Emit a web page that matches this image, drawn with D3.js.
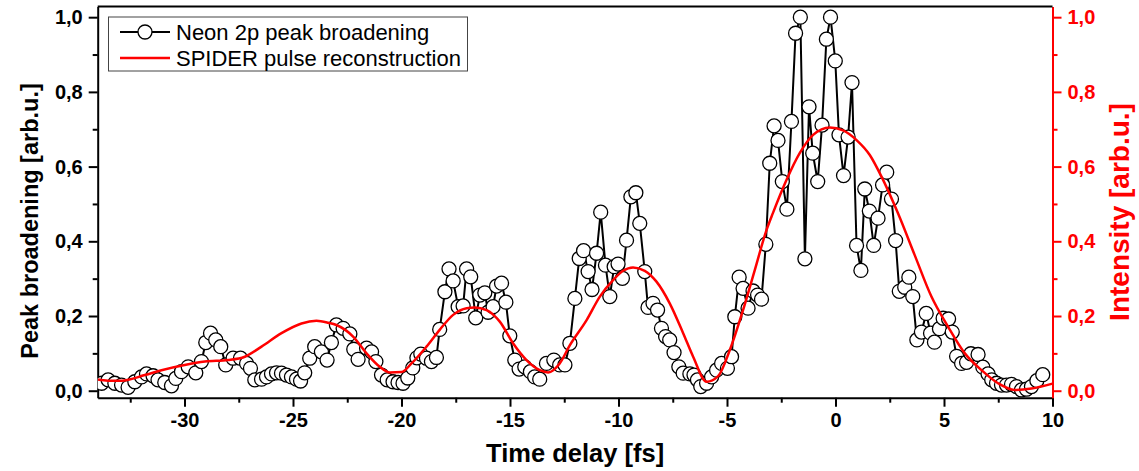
<!DOCTYPE html>
<html>
<head>
<meta charset="utf-8">
<script src="https://cdn.jsdelivr.net/npm/d3@7"></script>
<style>
  body { margin: 0; background: #fff; }
  text { font-family: "Liberation Sans", Arial, sans-serif; }
</style>
</head>
<body>
<div id="chart"></div>
<script>
// neon 2p peak broadening (time delay in fs, broadening arb.u.)
const delayNeon = [
  -33.82, -33.52, -33.21, -32.90, -32.60, -32.29, -31.98, -31.75, -31.45, -31.22,
  -30.91, -30.60, -30.40, -30.14, -29.83, -29.48, -29.22, -29.02, -28.80, -28.56,
  -28.33, -28.10, -27.76, -27.42, -27.14, -26.96, -26.76, -26.45, -26.22, -25.99,
  -25.76, -25.53, -25.30, -25.07, -24.84, -24.65, -24.46, -24.23, -24.00, -23.69,
  -23.43, -23.23, -23.00, -22.69, -22.38, -22.20, -22.00, -21.61, -21.38, -21.18,
  -20.92, -20.66, -20.39, -20.16, -19.93, -19.71, -19.48, -19.29, -19.11, -18.85,
  -18.62, -18.39, -18.24, -18.00, -17.81, -17.62, -17.39, -17.16, -17.00, -16.81,
  -16.58, -16.39, -16.16, -16.01, -15.78, -15.62, -15.39, -15.19, -15.01, -14.78,
  -14.58, -14.32, -14.06, -13.86, -13.63, -13.32, -12.98, -12.71, -12.47, -12.24,
  -12.01, -11.81, -11.61, -11.40, -11.22, -11.01, -10.82, -10.60, -10.40, -10.20,
  -10.02, -9.82, -9.63, -9.43, -9.20, -9.02, -8.79, -8.64, -8.41, -8.20,
  -8.02, -7.83, -7.64, -7.44, -7.22, -7.02, -6.71, -6.52, -6.36, -6.21,
  -5.94, -5.71, -5.48, -5.25, -4.98, -4.79, -4.64, -4.44, -4.26, -4.03,
  -3.80, -3.59, -3.41, -3.21, -3.03, -2.83, -2.65, -2.45, -2.24, -2.03,
  -1.84, -1.62, -1.41, -1.22, -1.05, -0.82, -0.62, -0.42, -0.23, -0.01,
  0.16, 0.37, 0.58, 0.76, 0.97, 1.17, 1.35, 1.56, 1.76, 1.96,
  2.17, 2.36, 2.58, 2.77, 2.94, 3.19, 3.38, 3.56, 3.75, 3.96,
  4.18, 4.38, 4.56, 4.79, 4.96, 5.21, 5.38, 5.58, 5.81, 6.04,
  6.24, 6.57, 6.79, 7.03, 7.20, 7.42, 7.65, 7.88, 8.11, 8.34,
  8.57, 8.80, 9.03, 9.28, 9.55
];
const broadening = [
  0.020, 0.029, 0.020, 0.015, 0.009, 0.024, 0.037, 0.045, 0.040, 0.029,
  0.022, 0.013, 0.033, 0.051, 0.064, 0.048, 0.078, 0.129, 0.154, 0.136,
  0.118, 0.069, 0.087, 0.087, 0.073, 0.060, 0.029, 0.031, 0.037, 0.045,
  0.048, 0.047, 0.042, 0.037, 0.031, 0.026, 0.048, 0.087, 0.118, 0.104,
  0.082, 0.129, 0.176, 0.167, 0.152, 0.111, 0.084, 0.114, 0.104, 0.078,
  0.042, 0.029, 0.024, 0.022, 0.020, 0.034, 0.061, 0.088, 0.098, 0.087,
  0.078, 0.089, 0.164, 0.265, 0.326, 0.294, 0.225, 0.227, 0.326, 0.305,
  0.195, 0.256, 0.262, 0.210, 0.225, 0.280, 0.288, 0.237, 0.147, 0.082,
  0.058, 0.064, 0.051, 0.037, 0.031, 0.073, 0.082, 0.069, 0.069, 0.127,
  0.247, 0.354, 0.375, 0.319, 0.271, 0.368, 0.478, 0.336, 0.252, 0.332,
  0.339, 0.301, 0.403, 0.519, 0.530, 0.448, 0.319, 0.223, 0.234, 0.216,
  0.167, 0.145, 0.136, 0.102, 0.064, 0.047, 0.045, 0.042, 0.029, 0.011,
  0.020, 0.037, 0.055, 0.073, 0.060, 0.091, 0.198, 0.304, 0.274, 0.221,
  0.267, 0.256, 0.245, 0.392, 0.609, 0.709, 0.670, 0.560, 0.486, 0.721,
  0.957, 1.000, 0.353, 0.760, 0.636, 0.560, 0.711, 0.941, 1.000, 0.883,
  0.685, 0.576, 0.679, 0.825, 0.389, 0.322, 0.540, 0.481, 0.389, 0.462,
  0.551, 0.585, 0.513, 0.402, 0.266, 0.277, 0.304, 0.252, 0.136, 0.157,
  0.207, 0.154, 0.130, 0.166, 0.194, 0.192, 0.157, 0.092, 0.073, 0.076,
  0.099, 0.097, 0.063, 0.045, 0.029, 0.020, 0.015, 0.015, 0.017, 0.011,
  0.002, 0.004, 0.011, 0.027, 0.043
];

// SPIDER reconstruction (time delay in fs, intensity arb.u.)
const delaySpider = [
  -34.00, -33.53, -32.90, -31.83, -31.06, -29.99, -29.06, -27.99, -27.22, -26.45,
  -25.53, -24.61, -23.92, -23.38, -23.00, -22.23, -21.61, -21.00, -20.54, -20.00,
  -19.54, -18.85, -18.24, -17.62, -17.00, -16.62, -16.08, -15.47, -14.86, -14.24,
  -13.63, -13.24, -12.71, -12.24, -11.47, -10.86, -10.25, -9.79, -9.33, -8.79,
  -8.25, -7.64, -7.02, -6.56, -5.94, -5.41, -4.87, -4.26, -3.72, -3.18,
  -2.88, -2.26, -1.65, -1.03, -0.26, 0.35, 0.97, 1.58, 2.12, 2.88,
  3.65, 4.42, 5.19, 5.96, 6.73, 7.49, 8.26, 9.03, 10.00
];
const intensity = [
  0.030, 0.027, 0.027, 0.042, 0.055, 0.069, 0.078, 0.082, 0.091, 0.118,
  0.154, 0.180, 0.187, 0.182, 0.176, 0.145, 0.100, 0.064, 0.049, 0.050,
  0.073, 0.118, 0.163, 0.203, 0.221, 0.223, 0.216, 0.185, 0.127, 0.082,
  0.055, 0.049, 0.073, 0.122, 0.189, 0.252, 0.296, 0.321, 0.330, 0.321,
  0.292, 0.234, 0.154, 0.091, 0.024, 0.039, 0.109, 0.216, 0.323, 0.430,
  0.476, 0.564, 0.636, 0.685, 0.705, 0.697, 0.671, 0.631, 0.573, 0.475,
  0.363, 0.252, 0.171, 0.100, 0.055, 0.020, 0.002, 0.006, 0.019
];

const xTicks = [-30, -25, -20, -15, -10, -5, 0, 5, 10];
const xMinorTicks = [-32.5, -27.5, -22.5, -17.5, -12.5, -7.5, -2.5, 2.5, 7.5];
const yTicks = [0, 0.2, 0.4, 0.6, 0.8, 1.0];
const yMinorTicks = [0.1, 0.3, 0.5, 0.7, 0.9];
const legendLabels = ["Neon 2p peak broadening", "SPIDER pulse reconstruction"];

const width = 1139;
const height = 471;
const margin = { top: 6.5, right: 86.5, bottom: 73.3, left: 97.7 };
const red = "#ff0000";

const svg = d3.select("#chart")
  .append("svg")
  .attr("width", width)
  .attr("height", height);

const x = d3.scaleLinear()
  .domain([-34, 10])
  .range([margin.left, width - margin.right]);

const y = d3.scaleLinear()
  .domain([-0.0187, 1.0286])
  .range([height - margin.bottom, margin.top]);

const y2 = y.copy(); // right axis uses same scale

const comma = d => d3.format(".1f")(d).replace(".", ",");
const plain = d => String(d); // ascii hyphen like the original

// x axis
svg.append("g")
  .attr("transform", `translate(0,${height - margin.bottom})`)
  .call(d3.axisBottom(x).tickValues(xMinorTicks).tickSize(5).tickFormat("").tickSizeOuter(0))
  .call(g => g.select(".domain").remove());

const gx = svg.append("g")
  .attr("transform", `translate(0,${height - margin.bottom})`)
  .call(d3.axisBottom(x).tickValues(xTicks).tickSize(9).tickSizeOuter(0).tickPadding(6).tickFormat(plain));
gx.selectAll("text")
  .attr("font-size", 20)
  .attr("font-weight", "bold")
  .attr("fill", "#000");

// left y axis
svg.append("g")
  .attr("transform", `translate(${margin.left},0)`)
  .call(d3.axisLeft(y).tickValues(yMinorTicks).tickSize(5).tickFormat("").tickSizeOuter(0))
  .call(g => g.select(".domain").remove());

const gy = svg.append("g")
  .attr("transform", `translate(${margin.left},0)`)
  .call(d3.axisLeft(y).tickValues(yTicks).tickSize(9).tickSizeOuter(0).tickPadding(6).tickFormat(comma));
gy.selectAll("text")
  .attr("font-size", 20)
  .attr("font-weight", "bold")
  .attr("fill", "#000");

// right y axis (red)
const rx = width - margin.right;
svg.append("g")
  .attr("transform", `translate(${rx},0)`)
  .call(d3.axisRight(y2).tickValues(yMinorTicks).tickSize(5).tickFormat("").tickSizeOuter(0))
  .call(g => g.select(".domain").remove())
  .call(g => g.selectAll("line").attr("stroke", red));

const gy2 = svg.append("g")
  .attr("transform", `translate(${rx},0)`)
  .call(d3.axisRight(y2).tickValues(yTicks).tickSize(9).tickSizeOuter(0).tickPadding(6).tickFormat(comma));
gy2.selectAll("line").attr("stroke", red);
gy2.select(".domain").attr("stroke", red);
gy2.selectAll("text")
  .attr("font-size", 20)
  .attr("font-weight", "bold")
  .attr("fill", red);

// top frame line
svg.append("line")
  .attr("x1", margin.left).attr("x2", rx)
  .attr("y1", margin.top).attr("y2", margin.top)
  .attr("stroke", "#000").attr("stroke-width", 2);

svg.selectAll(".domain").attr("stroke-width", 2);
svg.selectAll(".tick line").attr("stroke-width", 2);

// clip for data
svg.append("clipPath").attr("id", "plot")
  .append("rect")
  .attr("x", margin.left).attr("y", margin.top)
  .attr("width", rx - margin.left)
  .attr("height", height - margin.bottom - margin.top);

const plot = svg.append("g").attr("clip-path", "url(#plot)");

const neon = delayNeon.map((t, i) => ({ t, v: broadening[i] }));
const spider = delaySpider.map((t, i) => ({ t, v: intensity[i] }));

plot.append("path")
  .datum(neon)
  .attr("fill", "none")
  .attr("stroke", "#000")
  .attr("stroke-width", 2)
  .attr("d", d3.line().x(d => x(d.t)).y(d => y(d.v)));

plot.append("g")
  .selectAll("circle")
  .data(neon)
  .join("circle")
    .attr("cx", d => x(d.t))
    .attr("cy", d => y(d.v))
    .attr("r", 7)
    .attr("fill", "#fff")
    .attr("stroke", "#000")
    .attr("stroke-width", 1.3);

plot.append("path")
  .datum(spider)
  .attr("fill", "none")
  .attr("stroke", red)
  .attr("stroke-width", 2.5)
  .attr("d", d3.line().x(d => x(d.t)).y(d => y2(d.v)).curve(d3.curveMonotoneX));

// axis titles
svg.append("text")
  .attr("x", (margin.left + rx) / 2)
  .attr("y", 462)
  .attr("text-anchor", "middle")
  .attr("font-size", 25.5)
  .attr("font-weight", "bold")
  .text("Time delay [fs]");

svg.append("text")
  .attr("transform", `translate(38,221) rotate(-90)`)
  .attr("text-anchor", "middle")
  .attr("font-size", 23.5)
  .attr("font-weight", "bold")
  .text("Peak broadening [arb.u.]");

svg.append("text")
  .attr("transform", `translate(1129,212) rotate(-90)`)
  .attr("text-anchor", "middle")
  .attr("font-size", 28)
  .attr("font-weight", "bold")
  .attr("fill", red)
  .text("Intensity [arb.u.]");

// legend
const legend = svg.append("g");
legend.append("rect")
  .attr("x", 108.5).attr("y", 17)
  .attr("width", 359).attr("height", 54)
  .attr("fill", "#fff")
  .attr("stroke", "#444")
  .attr("stroke-width", 1);

legendLabels.forEach((label, i) => {
  const ly = 32 + i * 26;
  legend.append("line")
    .attr("x1", 120).attr("x2", 170)
    .attr("y1", ly).attr("y2", ly)
    .attr("stroke", i === 0 ? "#000" : red)
    .attr("stroke-width", i === 0 ? 2 : 2.5);
  if (i === 0) {
    legend.append("circle")
      .attr("cx", 145).attr("cy", ly).attr("r", 7)
      .attr("fill", "#fff").attr("stroke", "#000").attr("stroke-width", 1.3);
  }
  legend.append("text")
    .attr("x", 176).attr("y", ly + 7.5)
    .attr("font-size", 22)
    .text(label);
});
</script>
</body>
</html>
